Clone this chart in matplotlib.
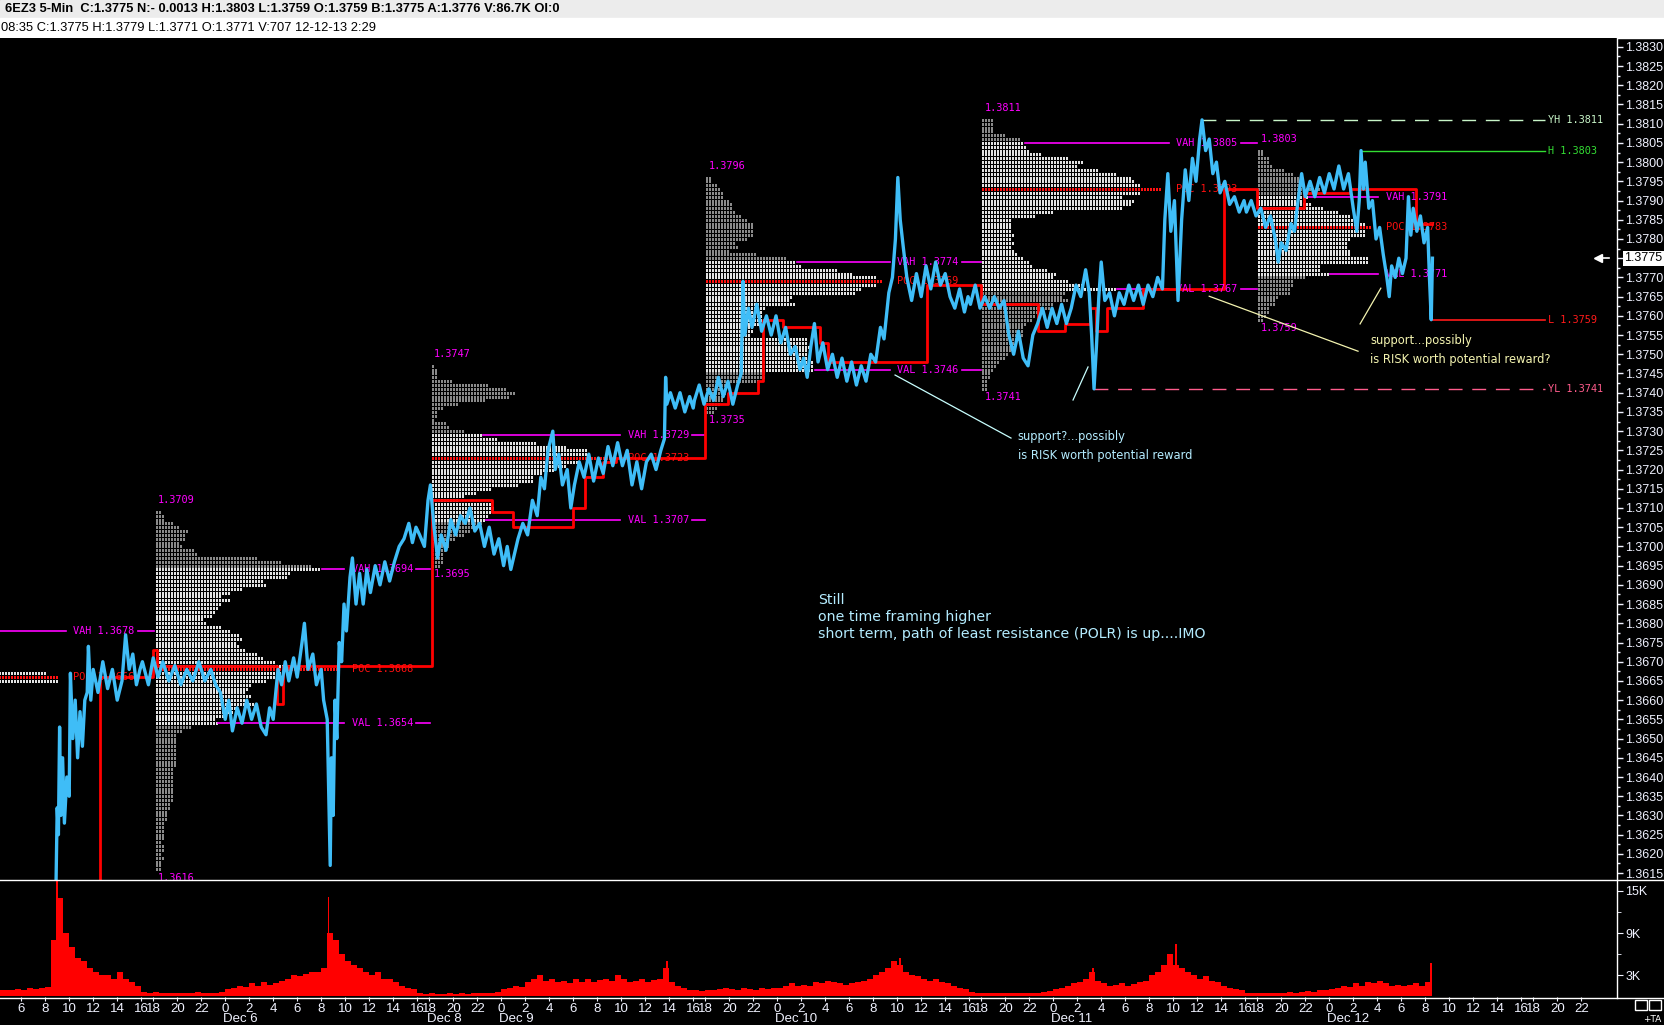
import matplotlib
matplotlib.use("Agg")
import matplotlib.pyplot as plt
import numpy as np
from matplotlib.lines import Line2D
from matplotlib.patches import Rectangle
from matplotlib.transforms import blended_transform_factory

# ---------------- data ----------------
# x axis = trading hours since Dec 5 00:00 with the daily 16-17h break removed
price_t = [8.9, 9.0, 9.1, 9.2, 9.3, 9.45, 9.6, 9.8, 10.0, 10.1, 10.3, 10.5, 10.7, 10.9, 11.1, 11.3, 11.5, 11.6,
           11.8, 12.0, 12.4, 12.8, 13.2, 13.6, 14.0, 14.4, 14.7, 15.0, 15.3, 15.6, 15.9,
           16.1, 16.6, 17.0, 17.4, 17.8, 18.3, 18.8, 19.3, 19.8, 20.3, 20.8, 21.3, 21.8, 22.2, 22.6, 23.0,
           23.3, 23.6, 24.0, 24.4, 24.8, 25.2, 25.6, 26.0, 26.4, 26.7, 27.0, 27.4, 27.7, 28.0, 28.3, 28.7,
           29.0, 29.4, 29.6, 29.9, 30.3, 30.6, 31.0, 31.2, 31.5, 31.6, 31.75, 31.85, 32.0, 32.15, 32.3, 32.5,
           32.7, 32.9, 33.1, 33.4, 33.6, 33.9, 34.2, 34.5, 34.8, 35.1, 35.5, 35.9, 36.3, 36.7, 37.1, 37.5,
           37.9, 38.3, 38.6, 38.9,
           39.2, 39.6, 39.9, 40.1, 40.4, 40.7, 41.0, 41.4, 41.8, 42.2, 42.6, 43.0, 43.4, 43.8, 44.2, 44.6,
           45.0, 45.4, 45.8, 46.2, 46.5, 46.8, 47.1, 47.4, 47.8, 48.2, 48.6, 49.0, 49.3, 49.6, 49.9, 50.3,
           50.5, 50.8, 51.1, 51.5, 51.8, 52.1, 52.5, 52.9, 53.3, 53.7, 54.1, 54.5, 54.9, 55.3, 55.7, 56.1,
           56.5, 56.9, 57.3, 57.7, 58.1, 58.5, 58.9, 59.3, 59.6, 59.7, 59.8, 60.1, 60.5, 60.9, 61.3, 61.7, 62.0,
           62.1, 62.5, 62.9, 63.3, 63.7, 64.1, 64.5, 64.9, 65.3, 65.7, 66.0, 66.15, 66.3, 66.6, 66.9, 67.3,
           67.7, 68.1, 68.5, 68.9, 69.3, 69.7, 70.1, 70.5, 70.9, 71.2, 71.5, 71.8, 72.1, 72.4, 72.8, 73.2,
           73.6, 74.0, 74.4, 74.8, 75.2, 75.6, 76.0, 76.4, 76.8, 77.2, 77.6, 77.9, 78.3, 78.6, 78.85, 79.05,
           79.25, 79.5, 79.8, 80.2, 80.6, 81.0, 81.4, 81.8, 82.2, 82.6, 83.0, 83.4, 83.8, 84.2, 84.6, 84.9,
           85.1, 85.5, 85.9, 86.3, 86.7, 87.1, 87.5, 87.9, 88.3, 88.7, 89.1, 89.5, 89.9, 90.3, 90.7, 91.1,
           91.5, 91.9, 92.3, 92.7, 93.1, 93.5, 93.9, 94.3, 94.7, 95.0, 95.2, 95.4, 95.6, 95.8, 96.0, 96.3,
           96.7, 97.1, 97.5, 97.9, 98.3, 98.7, 99.1, 99.5, 99.9, 100.3, 100.7, 101.1, 101.3, 101.55, 101.8,
           102.1, 102.4, 102.7, 103.0, 103.3, 103.6, 103.9, 104.2, 104.4, 104.7, 105.0, 105.3, 105.6, 105.9,
           106.3, 106.7, 107.1, 107.5, 107.9,
           108.1, 108.5, 108.9, 109.3, 109.7, 110.1, 110.5, 110.75, 111.0, 111.4, 111.8, 112.1, 112.4, 112.7,
           113.0, 113.4, 113.8, 114.2, 114.6, 115.0, 115.4, 115.8, 116.2, 116.6, 117.0, 117.3, 117.5, 117.65,
           117.85, 118.0, 118.3, 118.6, 118.9, 119.2, 119.5, 119.8, 120.0, 120.2, 120.5, 120.8, 121.1, 121.4,
           121.6, 121.8, 122.0, 122.3, 122.6, 122.9, 123.2, 123.35, 123.5, 123.6]
price_v = [1.3612, 1.3632, 1.3625, 1.3653, 1.3630, 1.3645, 1.3628, 1.3640, 1.3635, 1.3667, 1.3650, 1.3660,
           1.3645, 1.3657, 1.3648, 1.3660, 1.3662, 1.3674, 1.3660, 1.3668, 1.3662, 1.3670, 1.3663, 1.3668,
           1.3660, 1.3665, 1.3677, 1.3668, 1.3672, 1.3664, 1.3668,
           1.3670, 1.3664, 1.3671, 1.3666, 1.3670, 1.3665, 1.3669, 1.3664, 1.3668, 1.3665, 1.3670, 1.3665,
           1.3668, 1.3664, 1.3662, 1.3655,
           1.3660, 1.3652, 1.3658, 1.3654, 1.3660, 1.3655, 1.3659, 1.3653, 1.3651, 1.3658, 1.3655, 1.3668,
           1.3664, 1.3670, 1.3665, 1.3671, 1.3666, 1.3675, 1.3680, 1.3668, 1.3672, 1.3664, 1.3668, 1.3660,
           1.3655, 1.3640, 1.3617, 1.3645, 1.3630, 1.3660, 1.3650, 1.3675, 1.3670, 1.3685, 1.3678, 1.3692,
           1.3697, 1.3685, 1.3693, 1.3685, 1.3694, 1.3688, 1.3695, 1.3690, 1.3696, 1.3691, 1.3696, 1.3700,
           1.3702, 1.3706, 1.3701, 1.3705,
           1.3703, 1.3700, 1.3712, 1.3716, 1.3705, 1.3697, 1.3703, 1.3699, 1.3707, 1.3703, 1.3708, 1.3706,
           1.3710, 1.3704, 1.3706, 1.3700, 1.3705, 1.3698, 1.3702, 1.3695, 1.3700, 1.3694, 1.3698, 1.3702,
           1.3706, 1.3703, 1.3712, 1.3708, 1.3718, 1.3715, 1.3725, 1.3730, 1.3720, 1.3724, 1.3716, 1.3720,
           1.3710, 1.3716, 1.3722, 1.3718, 1.3724, 1.3717, 1.3723, 1.3719, 1.3726, 1.3721, 1.3727, 1.3721,
           1.3725, 1.3716, 1.3722, 1.3715, 1.3722, 1.3724, 1.3720, 1.3725, 1.3728, 1.3744, 1.3737, 1.3740,
           1.3736, 1.3740, 1.3735, 1.3739, 1.3736,
           1.3738, 1.3742, 1.3737, 1.3741, 1.3738, 1.3744, 1.3739, 1.3743, 1.3737, 1.3742, 1.3745, 1.3769,
           1.3755, 1.3762, 1.3757, 1.3763, 1.3756, 1.3760, 1.3755, 1.3760, 1.3753, 1.3757, 1.3750, 1.3752,
           1.3746, 1.3749, 1.3744, 1.3752, 1.3758, 1.3748, 1.3753, 1.3746, 1.3750, 1.3744, 1.3749, 1.3743,
           1.3748, 1.3742, 1.3747, 1.3743, 1.3750, 1.3748, 1.3757, 1.3754, 1.3766, 1.3770, 1.3780, 1.3796,
           1.3785, 1.3778, 1.3770, 1.3764, 1.3771, 1.3765, 1.3773, 1.3767, 1.3774, 1.3768, 1.3771, 1.3765,
           1.3762, 1.3767, 1.3761, 1.3765,
           1.3763, 1.3768, 1.3762, 1.3765, 1.3762, 1.3765, 1.3762, 1.3764, 1.3755, 1.3750, 1.3756, 1.3749,
           1.3747, 1.3755, 1.3758, 1.3762, 1.3757, 1.3762, 1.3758, 1.3763, 1.3758, 1.3762, 1.3768, 1.3765,
           1.3772, 1.3766, 1.3755, 1.3741, 1.3752, 1.3765, 1.3774, 1.3764, 1.3766, 1.3760, 1.3766, 1.3763,
           1.3768, 1.3764, 1.3768, 1.3763, 1.3768, 1.3765, 1.3770, 1.3767, 1.3785, 1.3797, 1.3782, 1.3790,
           1.3764, 1.3785, 1.3798, 1.3790, 1.3801, 1.3795, 1.3806, 1.3811, 1.3803, 1.3806, 1.3797, 1.3800,
           1.3792, 1.3795, 1.3789, 1.3791, 1.3787, 1.3790,
           1.3787, 1.3790, 1.3786, 1.3788, 1.3783, 1.3786, 1.3780, 1.3774, 1.3779, 1.3777, 1.3784, 1.3782,
           1.3790, 1.3797, 1.3791, 1.3795, 1.3791, 1.3796, 1.3792, 1.3797, 1.3793, 1.3799, 1.3793, 1.3797,
           1.3788, 1.3782, 1.3790, 1.3803, 1.3793, 1.3800, 1.3788, 1.3790, 1.3780, 1.3783, 1.3776, 1.3770,
           1.3765, 1.3773, 1.3770, 1.3775, 1.3771, 1.3775, 1.3791, 1.3781, 1.3788, 1.3782, 1.3786, 1.3779,
           1.3783, 1.3770, 1.3759, 1.3775]

# volume profiles: row widths (volume units) from the session high downwards, one row per tick (0.0001)
prof_dec5 = [504, 545, 540]
prof_dec6 = [20, 22, 22, 50, 70, 100, 85, 85, 70, 80, 117, 120, 300, 380, 470, 497, 400, 390, 325, 330,
             260, 220, 200, 220, 200, 190, 175, 165, 140, 150, 200, 225, 250, 255, 245, 250, 270, 300, 320, 360,
             400, 545, 380, 370, 330, 290, 280, 270, 285, 280, 300, 240, 230, 210, 175, 185, 110, 75, 65, 62,
             62, 60, 62, 60, 62, 60, 58, 55, 55, 52, 55, 52, 50, 52, 50, 48, 40, 40, 38, 37,
             37, 25, 22, 22, 22, 22, 20, 22, 22, 20, 22, 20, 20, 18]
prof_dec9 = [10, 15, 18, 20, 65, 170, 225, 250, 230, 160, 80, 30, 20, 15, 10, 40, 55, 100, 150, 195,
             315, 405, 465, 475, 545, 435, 405, 365, 335, 305, 305, 255, 180, 135, 100, 75, 180, 185, 175, 165,
             160, 150, 130, 115, 100, 70, 55, 55, 45, 35, 30, 30, 25]
prof_dec10 = [18, 18, 33, 38, 53, 53, 68, 73, 73, 83, 108, 123, 138, 138, 143, 143, 123, 88, 93, 68,
              148, 238, 268, 288, 388, 438, 508, 528, 508, 468, 448, 258, 248, 263, 178, 168, 168, 178, 158, 138,
              138, 133, 298, 298, 310, 300, 300, 305, 320, 320, 323, 178, 178, 160, 58, 58, 58, 48, 48, 40, 30, 20]
prof_dec11 = [33, 33, 33, 33, 68, 113, 123, 133, 143, 173, 253, 298, 288, 348, 398, 448, 458, 473, 538, 473,
              423, 453, 448, 418, 208, 158, 83, 83, 88, 88, 93, 83, 98, 88, 93, 103, 118, 143, 148, 193,
              218, 208, 258, 298, 400, 250, 240, 260, 215, 200, 175, 160, 145, 130, 125, 120, 118, 115, 108, 95,
              88, 78, 65, 50, 40, 33, 25, 20, 18, 15, 15]
prof_dec12 = [15, 15, 33, 33, 43, 73, 103, 118, 128, 143, 183, 153, 148, 133, 160, 198, 243, 278, 293, 318,
              338, 323, 323, 273, 268, 263, 273, 278, 328, 328, 183, 188, 211, 138, 108, 108, 93, 93, 63, 53,
              48, 33, 31, 23, 15]
prof_top = [1.3667, 1.3709, 1.3747, 1.3796, 1.3811, 1.3803]

sess_start = [-6.0, 17.2, 40.2, 63.1, 86.1, 109.1]
sess_high = [None, 1.3709, 1.3747, 1.3796, 1.3811, 1.3803]
sess_low = [None, 1.3616, 1.3695, 1.3735, 1.3741, 1.3759]
sess_vah = [1.3678, 1.3694, 1.3729, 1.3774, 1.3805, 1.3791]
sess_poc = [1.3666, 1.3668, 1.3723, 1.3769, 1.3793, 1.3783]
sess_val = [None, 1.3654, 1.3707, 1.3746, 1.3767, 1.3771]

# developing POC (step line)
dpoc_t = [4.2, 12.6, 17.0, 17.3, 27.3, 27.8, 40.2, 45.2, 47.0, 52.0, 53.0, 54.5, 55.6,
          63.0, 64.9, 67.4, 67.8, 69.5, 72.6, 73.2, 81.5, 86.0, 90.7, 93.0, 95.1, 95.6, 96.5,
          99.5, 106.2, 109.0, 112.9, 116.7, 122.2, 123.6]
dpoc_v = [1.3600, 1.3666, 1.3673, 1.3669, 1.3659, 1.3669, 1.3712, 1.3709, 1.3705, 1.3710, 1.3718, 1.3722, 1.3723,
          1.3737, 1.3740, 1.3743, 1.3759, 1.3757, 1.3753, 1.3748, 1.3768, 1.3763, 1.3756, 1.3758, 1.3762, 1.3756,
          1.3762, 1.3767, 1.3793, 1.3788, 1.3792, 1.3793, 1.3784, 1.3784]

# reference levels
yh_t, yh_v = 104.4, 1.3811
yl_t, yl_v = 95.4, 1.3741
h_t, h_v = 117.65, 1.3803
l_t, l_v = 123.5, 1.3759
last_price = 1.3775

# volume (K contracts per 5-min bar, typical per half hour), bins start at t=4.0
vol_start = 4.0
vol = [0.8, 0.9, 0.8, 1.0, 0.9, 1.1, 1.0, 1.2, 1.3,
       8, 14, 9, 7, 5.5, 5, 4, 3.5, 3, 3, 2.5, 3.5, 2.5, 2, 1.5,
       0.6, 0.5,
       0.6, 0.5, 0.5, 0.4, 0.5, 0.4, 0.5, 0.6, 0.5, 0.4, 0.5, 0.6,
       1.0, 1.2, 1.5, 1.3, 1.8, 1.5, 2.0, 1.6, 1.8, 2.2, 2.5, 3.0, 2.8, 3.2, 3.5, 3.5, 4.0,
       9, 8, 6, 5, 4.5, 4, 3.5, 3, 3.5, 2.5, 2.5, 2, 1.5, 1.2, 1.0,
       0.4, 0.3, 0.4, 0.3, 0.3, 0.4, 0.3, 0.4, 0.3, 0.4, 0.5, 0.4, 0.5, 0.6,
       1.0, 1.2, 1.5, 1.3, 2.0, 2.5, 3.0, 2.2, 2.5, 2.0, 2.2, 1.8, 2.5, 2.0, 2.5, 2.0, 2.3,
       2.5, 2.2, 3.0, 2.5, 2.0, 2.2, 2.5, 2.0, 2.3, 2.5, 4.0, 2.0, 1.5, 1.2, 0.8,
       0.8, 0.7, 0.9, 0.8, 1.0, 1.2, 1.0, 0.9, 1.1, 1.0, 0.9, 1.2, 1.0, 1.1,
       1.2, 1.5, 1.8, 1.5, 1.6, 1.4, 2.0, 1.8, 2.2, 2.0, 1.8, 1.6, 1.8, 2.0, 2.2, 2.5,
       3.0, 3.5, 4.0, 5.0, 4.5, 3.5, 3.0, 2.8, 2.5, 2.2, 2.5, 2.0, 1.8, 1.5, 1.2, 1.0,
       0.6, 0.5, 0.5, 0.4, 0.5, 0.4, 0.4, 0.5, 0.4, 0.5, 0.5, 0.4, 0.6, 0.7,
       1.0, 1.2, 1.5, 1.8, 2.0, 2.5, 3.5, 2.2, 1.8, 1.5, 1.6, 1.8, 1.5, 1.7, 2.0, 2.2,
       3.0, 3.5, 4.5, 6.0, 4.5, 4.0, 3.5, 3.0, 2.5, 2.8, 2.2, 2.0, 1.5, 1.2, 1.0, 0.8,
       0.5, 0.4, 0.5, 0.4, 0.5, 0.4, 0.5, 0.6, 0.5, 0.6, 0.7, 0.6, 0.8, 0.9,
       1.0, 1.2, 1.5, 1.3, 1.8, 1.5, 2.0, 1.8, 2.2, 1.8, 1.5, 1.6, 1.4, 1.6, 1.8, 1.5, 2.0]
spike_t = [9.0, 31.6, 59.8, 79.2, 95.3, 102.2, 123.5]
spike_v = [17.0, 14.2, 5.0, 5.5, 4.0, 7.5, 4.7]

# time axis
session_zero = [0, 23, 46, 69, 92, 115, 138]
date_labels = ["Dec 6", "Dec 8", "Dec 9", "Dec 10", "Dec 11", "Dec 12"]
date_t = [23, 40, 46, 69, 92, 115]

header1 = "6EZ3 5-Min  C:1.3775 N:- 0.0013 H:1.3803 L:1.3759 O:1.3759 B:1.3775 A:1.3776 V:86.7K OI:0"
header2 = "08:35 C:1.3775 H:1.3779 L:1.3771 O:1.3771 V:707 12-12-13 2:29"

# ---------------- figure ----------------
W, H = 1664, 1025
fig = plt.figure(figsize=(W / 100, H / 100), dpi=100, facecolor="black")


def fx(px):
    return px / W


def fy(py):
    return 1 - py / H


NARROW = ["Liberation Sans Narrow", "Liberation Sans", "DejaVu Sans"]
MONO = ["DejaVu Sans Mono"]
MAG = "#ff00ff"
AXC = "#f0f2ff"

ax = fig.add_axes([0, fy(880), fx(1617), fy(38) - fy(880)])
axv = fig.add_axes([0, fy(997), fx(1617), fy(880) - fy(997)], sharex=ax)
for a in (ax, axv):
    a.set_facecolor("black")
    for s in a.spines.values():
        s.set_visible(False)

ax.set_xlim(4.233, 138.98)
ax.set_ylim(1.36132, 1.38323)
axv.set_ylim(-0.14, 16.57)

S = 1 / 36.0  # hours per profile volume unit
TICK = 0.0001
profiles = [prof_dec5, prof_dec6, prof_dec9, prof_dec10, prof_dec11, prof_dec12]

# profiles
for i, widths in enumerate(profiles):
    st = sess_start[i]
    top = prof_top[i]
    ys, x1s, cols = [], [], []
    for k, w in enumerate(widths):
        p = top - k * TICK
        ys.append(p)
        x1s.append(st + w * S)
        val = sess_val[i] if sess_val[i] is not None else -1
        if abs(p - sess_poc[i]) < TICK / 2:
            cols.append("#ff1010")
        elif val - TICK / 2 <= p <= sess_vah[i] + TICK / 2:
            cols.append("#e2e2e2")
        else:
            cols.append("#8a8a8a")
    ax.hlines(ys, [st] * len(ys), x1s, colors=cols, linewidth=2.1,
              linestyles=[(0, (0.55, 0.45))], antialiased=False, zorder=2)

    def row_end(p):
        k = int(round((top - p) / TICK))
        if 0 <= k < len(widths):
            return st + widths[k] * S
        return st

    lab_x = st + max(widths) * S + 1.2
    nxt = sess_start[i + 1] - 0.1 if i + 1 < len(sess_start) else None
    for lvl, name in ((sess_vah[i], "VAH"), (sess_val[i], "VAL")):
        if lvl is None:
            continue
        ax.plot([row_end(lvl) + 0.1, lab_x - 0.6], [lvl, lvl], color=MAG, lw=1.2, zorder=3)
        ax.text(lab_x, lvl, f"{name} {lvl:.4f}", color=MAG, fontsize=7.4, family=MONO,
                va="center", ha="left", zorder=4)
        if nxt is not None:
            ax.plot([lab_x + 5.4, nxt], [lvl, lvl], color=MAG, lw=1.2, zorder=3)
    ax.text(lab_x, sess_poc[i], f"POC {sess_poc[i]:.4f}", color="#ff1010", fontsize=7.4,
            family=MONO, va="center", ha="left", zorder=4)
    if sess_high[i] is not None:
        ax.text(st + 0.2, sess_high[i] + 0.0003, f"{sess_high[i]:.4f}", color=MAG, fontsize=7.4,
                family=MONO, va="center", ha="left", zorder=4)
        ax.text(st + 0.2, sess_low[i] - 0.00022, f"{sess_low[i]:.4f}", color=MAG, fontsize=7.4,
                family=MONO, va="center", ha="left", zorder=4, clip_on=True)

# developing POC
ax.step(dpoc_t, dpoc_v, where="post", color="#ff0000", lw=2.0, zorder=3)

# reference levels
x_end, x_lab = 133.0, 133.2
ax.plot([yh_t, x_end], [yh_v, yh_v], color="#c8f5c8", lw=1.0, ls=(0, (10, 7)), zorder=3)
ax.text(x_lab, yh_v, f"YH {yh_v:.4f}", color="#c8f5c8", fontsize=7.4, family=MONO, va="center")
ax.plot([h_t, x_end], [h_v, h_v], color="#33dd33", lw=1.0, zorder=3)
ax.text(x_lab, h_v, f"H {h_v:.4f}", color="#33dd33", fontsize=7.4, family=MONO, va="center")
ax.plot([l_t, x_end], [l_v, l_v], color="#ff1a1a", lw=1.2, zorder=3)
ax.text(x_lab, l_v, f"L {l_v:.4f}", color="#ff1a1a", fontsize=7.4, family=MONO, va="center")
ax.plot([yl_t, x_end], [yl_v, yl_v], color="#ff5c8c", lw=1.0, ls=(0, (10, 7)), zorder=3)
ax.text(x_lab, yl_v, f"YL {yl_v:.4f}", color="#ff5c8c", fontsize=7.4, family=MONO, va="center")

# price
ax.plot(price_t, price_v, color="#3fbdf7", lw=2.4, zorder=6)

# annotations
CY = "#b4ecff"
YE = "#f4f4b0"
ax.plot([78.82, 88.48], [1.37446, 1.37282], color="#c8ffff", lw=0.9, zorder=5)
ax.plot([93.65, 94.9], [1.37381, 1.37467], color="#c8ffff", lw=0.9, zorder=5)
ax.text(89.05, 1.37262, "support?...possibly\nis RISK worth potential reward", color=CY, fontsize=8.3,
        va="center", ha="left", linespacing=1.6, zorder=7)
ax.plot([105.0, 117.4], [1.37651, 1.37508], color=YE, lw=0.9, zorder=5)
ax.plot([117.57, 119.3], [1.37579, 1.37672], color=YE, lw=0.9, zorder=5)
ax.text(118.4, 1.37512, "support...possibly\nis RISK worth potential reward?", color=YE, fontsize=8.3,
        va="center", ha="left", linespacing=1.6, zorder=7)
ax.text(72.4, 1.36816, "Still\none time framing higher\nshort term, path of least resistance (POLR) is up....IMO",
        color=CY, fontsize=10.2, va="center", ha="left", linespacing=1.3, zorder=7)

# price axis (right)
pticks = np.round(np.arange(1.3615, 1.38301, 0.0005), 4)
ax.yaxis.tick_right()
ax.set_yticks(pticks)
ax.set_yticklabels(["" if abs(v - last_price) < 1e-6 else f"{v:.4f}" for v in pticks])
ax.set_yticks(np.arange(1.36175, 1.3830, 0.0005), minor=True)
ax.tick_params(axis="y", which="major", colors=AXC, length=4, width=1, pad=2, labelsize=9)
ax.tick_params(axis="y", which="minor", colors=AXC, length=2, width=1)
for lab in ax.get_yticklabels():
    lab.set_family(NARROW)
ax.tick_params(axis="x", bottom=False, labelbottom=False)
tr = blended_transform_factory(ax.transAxes, ax.transData)
ax.text(1.0045, last_price, f"{last_price:.4f}", transform=tr, color="black", fontsize=9,
        family=NARROW, va="center", ha="left", clip_on=False,
        bbox=dict(boxstyle="square,pad=0.12", fc="white", ec="none"))
ax.plot([137.4], [last_price], marker="<", color="white", ms=6, zorder=8, clip_on=False)
ax.plot([137.4, 138.3], [last_price, last_price], color="white", lw=1.2, zorder=8)

# volume
vt = vol_start + 0.25 + 0.5 * np.arange(len(vol))
axv.bar(vt, vol, width=0.5, color="#ff0000", linewidth=0)
axv.bar(spike_t, spike_v, width=0.15, color="#ff0000", linewidth=0)
axv.yaxis.tick_right()
axv.set_yticks([3, 9, 15])
axv.set_yticklabels(["3K", "9K", "15K"])
axv.set_yticks([6, 12], minor=True)
axv.tick_params(axis="y", which="major", colors=AXC, length=4, pad=2, labelsize=9)
axv.tick_params(axis="y", which="minor", colors=AXC, length=3)
for lab in axv.get_yticklabels():
    lab.set_family(NARROW)

# time axis
tick_t, tick_l = [], []
for zi, z in enumerate(session_zero):
    for h in (18, 20, 22):
        tick_t.append(z - 24 + h)
        tick_l.append(str(h))
    if zi < len(session_zero) - 1:
        for h in range(0, 17, 2):
            tick_t.append(z + h)
            tick_l.append(str(h))
axv.set_xticks(tick_t)
axv.set_xticklabels(tick_l)
axv.tick_params(axis="x", colors=AXC, length=3, pad=1, labelsize=9.5)
for lab in axv.get_xticklabels():
    lab.set_family(NARROW)
trd = blended_transform_factory(axv.transData, fig.transFigure)
for t, s in zip(date_t, date_labels):
    axv.text(t - 0.15, fy(1019), s, transform=trd, color=AXC, fontsize=9.5, family=NARROW,
             va="center", ha="left", clip_on=False)
axv.set_xlim(4.233, 138.98)

# frame lines
fig.add_artist(Line2D([0, 1], [fy(880), fy(880)], color="white", lw=1, transform=fig.transFigure))
fig.add_artist(Line2D([0, 1], [fy(997.5), fy(997.5)], color="white", lw=1, transform=fig.transFigure))
fig.add_artist(Line2D([fx(1617), fx(1617)], [fy(38), fy(997.5)], color="white", lw=1, transform=fig.transFigure))
fig.add_artist(Rectangle((fx(1635), fy(1010)), fx(12), fy(1000) - fy(1010), fill=False, ec="white", lw=1,
                         transform=fig.transFigure))
fig.add_artist(Rectangle((fx(1649), fy(1010)), fx(12), fy(1000) - fy(1010), fill=False, ec="white", lw=1,
                         transform=fig.transFigure))
fig.text(fx(1643), fy(1020), "+TA", color="white", fontsize=6.5, va="center", ha="left")

# header
fig.add_artist(Rectangle((0, fy(18)), 1, 1 - fy(18), color="#ececec", transform=fig.transFigure, zorder=0))
fig.add_artist(Rectangle((0, fy(38)), 1, fy(18) - fy(38), color="white", transform=fig.transFigure, zorder=0))
fig.text(fx(5), fy(9.5), header1, color="black", fontsize=9.3, weight="bold", family=NARROW, va="center")
fig.text(fx(1), fy(28), header2, color="black", fontsize=9.3, family=NARROW, va="center")

fig.savefig("out.png", dpi=100, facecolor="black")
